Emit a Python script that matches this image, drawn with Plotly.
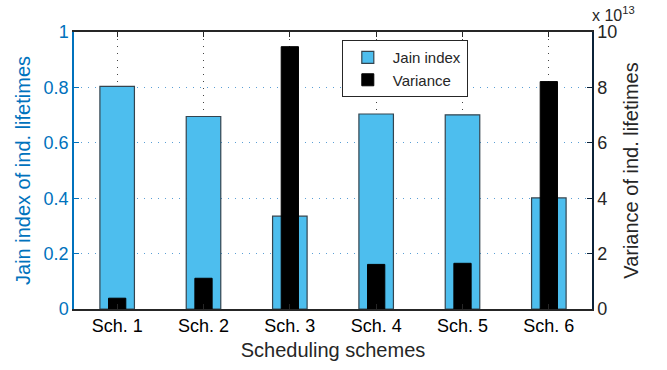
import plotly.graph_objects as go

# Scheduling schemes and the two measured quantities
schemes = ["Sch. 1", "Sch. 2", "Sch. 3", "Sch. 4", "Sch. 5", "Sch. 6"]
jain_index = [0.804, 0.695, 0.335, 0.704, 0.701, 0.401]
variance = [0.39e13, 1.11e13, 9.47e13, 1.61e13, 1.65e13, 8.21e13]

var_ticks = [0, 2e13, 4e13, 6e13, 8e13, 10e13]
var_ticktext = ["0", "2", "4", "6", "8", "10"]
jain_ticks = [0, 0.2, 0.4, 0.6, 0.8, 1]
jain_ticktext = ["0", "0.2", "0.4", "0.6", "0.8", "1"]

BLUE = "#0072BD"
BAR_BLUE = "#4DBEEE"
DARK = "#262626"
FONT = "Liberation Sans, Arial, sans-serif"

fig = go.Figure()
fig.add_trace(go.Bar(
    x=schemes, y=jain_index, name="Jain index",
    width=0.4, offset=-0.2,
    marker=dict(color=BAR_BLUE, line=dict(color="#34444f", width=1.2)),
    yaxis="y",
))
fig.add_trace(go.Bar(
    x=schemes, y=variance, name="Variance",
    width=0.2, offset=-0.1,
    marker=dict(color="#000000", line=dict(color="#000000", width=1)),
    yaxis="y2",
))

fig.update_layout(
    width=667, height=370,
    margin=dict(l=74, r=75, t=32, b=59),
    plot_bgcolor="white", paper_bgcolor="white",
    font=dict(family=FONT, size=18, color=DARK),
    barmode="overlay",
    showlegend=True,
    legend=dict(
        x=0.517, y=0.971, xanchor="left", yanchor="top",
        bgcolor="white", bordercolor=DARK, borderwidth=1,
        font=dict(size=15, color=DARK),
        traceorder="normal", itemwidth=40,
    ),
    xaxis=dict(
        type="category", range=[-0.5, 5.5],
        showline=True, linecolor=DARK, linewidth=1.5, mirror="ticks",
        ticks="inside", ticklen=5, tickcolor=DARK,
        showgrid=True, gridcolor="#444444", griddash="1px,6px", gridwidth=1,
        title=dict(text="Scheduling schemes", font=dict(size=20, color=DARK), standoff=8),
        tickfont=dict(size=18, color="#000000"),
    ),
    yaxis=dict(
        range=[0, 1], tickvals=jain_ticks, ticktext=jain_ticktext,
        showline=True, linecolor=BLUE, linewidth=1.5,
        ticks="inside", ticklen=5, tickcolor=BLUE,
        showgrid=True, gridcolor="#5a9fd6", griddash="1px,6px", gridwidth=1,
        zeroline=False,
        tickfont=dict(size=18, color=BLUE),
        title=dict(text="Jain index of ind. lifetimes", font=dict(size=20, color=BLUE), standoff=8),
    ),
    yaxis2=dict(
        range=[0, 10e13], tickvals=var_ticks, ticktext=var_ticktext,
        overlaying="y", side="right",
        showline=True, linecolor="#0b2238", linewidth=1.5,
        ticks="inside", ticklen=5, tickcolor="#0b2238",
        showgrid=False, zeroline=False,
        tickfont=dict(size=18, color=DARK),
        title=dict(text="Variance of ind. lifetimes", font=dict(size=20, color=DARK), standoff=8),
    ),
    annotations=[dict(
        text="x 10<sup>13</sup>", xref="paper", yref="paper",
        x=1.0, y=1.0, xanchor="left", yanchor="bottom", yshift=6, xshift=-2,
        showarrow=False, font=dict(size=16, color=DARK),
    )],
)

fig.write_html("out.html")
